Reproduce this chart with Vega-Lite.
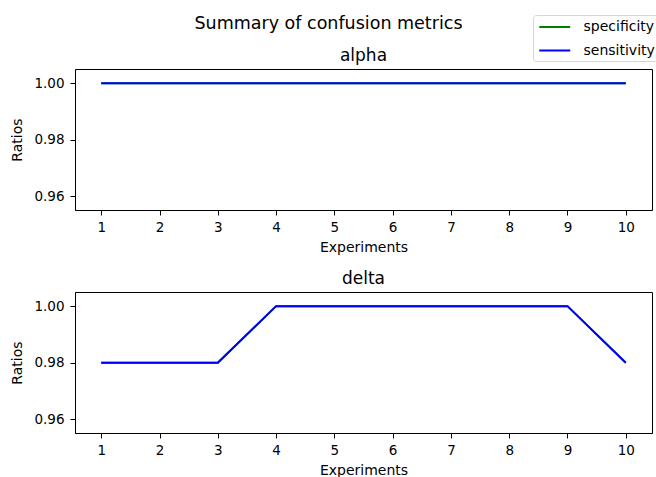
{
  "$schema": "https://vega.github.io/schema/vega-lite/v6.json",
  "padding": {"left": 10, "top": 14, "right": 0, "bottom": 0},
  "title": {"text": "Summary of confusion metrics", "fontSize": 17.5, "fontWeight": "normal", "font": "DejaVu Sans", "color": "#000", "anchor": "middle", "frame": "bounds", "offset": -32, "baseline": "alphabetic", "dx": -6},
  "data": {"values": [
    {"panel": "alpha", "experiment": 1, "metric": "specificity", "value": 1.0},
    {"panel": "alpha", "experiment": 2, "metric": "specificity", "value": 1.0},
    {"panel": "alpha", "experiment": 3, "metric": "specificity", "value": 1.0},
    {"panel": "alpha", "experiment": 4, "metric": "specificity", "value": 1.0},
    {"panel": "alpha", "experiment": 5, "metric": "specificity", "value": 1.0},
    {"panel": "alpha", "experiment": 6, "metric": "specificity", "value": 1.0},
    {"panel": "alpha", "experiment": 7, "metric": "specificity", "value": 1.0},
    {"panel": "alpha", "experiment": 8, "metric": "specificity", "value": 1.0},
    {"panel": "alpha", "experiment": 9, "metric": "specificity", "value": 1.0},
    {"panel": "alpha", "experiment": 10, "metric": "specificity", "value": 1.0},
    {"panel": "alpha", "experiment": 1, "metric": "sensitivity", "value": 1.0},
    {"panel": "alpha", "experiment": 2, "metric": "sensitivity", "value": 1.0},
    {"panel": "alpha", "experiment": 3, "metric": "sensitivity", "value": 1.0},
    {"panel": "alpha", "experiment": 4, "metric": "sensitivity", "value": 1.0},
    {"panel": "alpha", "experiment": 5, "metric": "sensitivity", "value": 1.0},
    {"panel": "alpha", "experiment": 6, "metric": "sensitivity", "value": 1.0},
    {"panel": "alpha", "experiment": 7, "metric": "sensitivity", "value": 1.0},
    {"panel": "alpha", "experiment": 8, "metric": "sensitivity", "value": 1.0},
    {"panel": "alpha", "experiment": 9, "metric": "sensitivity", "value": 1.0},
    {"panel": "alpha", "experiment": 10, "metric": "sensitivity", "value": 1.0},
    {"panel": "delta", "experiment": 1, "metric": "specificity", "value": 0.98},
    {"panel": "delta", "experiment": 2, "metric": "specificity", "value": 0.98},
    {"panel": "delta", "experiment": 3, "metric": "specificity", "value": 0.98},
    {"panel": "delta", "experiment": 4, "metric": "specificity", "value": 1.0},
    {"panel": "delta", "experiment": 5, "metric": "specificity", "value": 1.0},
    {"panel": "delta", "experiment": 6, "metric": "specificity", "value": 1.0},
    {"panel": "delta", "experiment": 7, "metric": "specificity", "value": 1.0},
    {"panel": "delta", "experiment": 8, "metric": "specificity", "value": 1.0},
    {"panel": "delta", "experiment": 9, "metric": "specificity", "value": 1.0},
    {"panel": "delta", "experiment": 10, "metric": "specificity", "value": 0.98},
    {"panel": "delta", "experiment": 1, "metric": "sensitivity", "value": 0.98},
    {"panel": "delta", "experiment": 2, "metric": "sensitivity", "value": 0.98},
    {"panel": "delta", "experiment": 3, "metric": "sensitivity", "value": 0.98},
    {"panel": "delta", "experiment": 4, "metric": "sensitivity", "value": 1.0},
    {"panel": "delta", "experiment": 5, "metric": "sensitivity", "value": 1.0},
    {"panel": "delta", "experiment": 6, "metric": "sensitivity", "value": 1.0},
    {"panel": "delta", "experiment": 7, "metric": "sensitivity", "value": 1.0},
    {"panel": "delta", "experiment": 8, "metric": "sensitivity", "value": 1.0},
    {"panel": "delta", "experiment": 9, "metric": "sensitivity", "value": 1.0},
    {"panel": "delta", "experiment": 10, "metric": "sensitivity", "value": 0.98}
  ]},
  "bounds": "flush",
  "spacing": 82,
  "vconcat": [
    {
      "width": 577, "height": 141,
      "title": {"text": "alpha", "fontSize": 17, "fontWeight": "normal", "font": "DejaVu Sans", "color": "#000", "offset": 4, "anchor": "middle", "frame": "group"},
      "transform": [{"filter": "datum.panel === 'alpha'"}],
      "layer": [
        {"transform": [{"filter": "datum.metric === 'specificity'"}],
         "mark": {"type": "line", "strokeWidth": 2},
         "encoding": {
           "x": {"field": "experiment", "type": "quantitative", "scale": {"domain": [0.55, 10.45], "nice": false, "zero": false}, "axis": {"values": [1,2,3,4,5,6,7,8,9,10], "format": "d", "title": "Experiments", "labelAngle": 0, "titlePadding": 7, "labelPadding": 5}},
           "y": {"field": "value", "type": "quantitative", "scale": {"domain": [0.9552, 1.005], "nice": false, "zero": false}, "axis": {"values": [0.96, 0.98, 1.0], "format": ".2f", "title": "Ratios", "titlePadding": 9, "labelPadding": 6}},
           "color": {"field": "metric", "type": "nominal", "scale": {"domain": ["specificity", "sensitivity"], "range": ["#008000", "#0000ff"]}}
         }},
        {"transform": [{"filter": "datum.metric === 'sensitivity'"}],
         "mark": {"type": "line", "strokeWidth": 2},
         "encoding": {
           "x": {"field": "experiment", "type": "quantitative"},
           "y": {"field": "value", "type": "quantitative"},
           "color": {"field": "metric", "type": "nominal"}
         }}
      ]
    },
    {
      "width": 577, "height": 141,
      "title": {"text": "delta", "fontSize": 17, "fontWeight": "normal", "font": "DejaVu Sans", "color": "#000", "offset": 4, "anchor": "middle", "frame": "group"},
      "transform": [{"filter": "datum.panel === 'delta'"}],
      "layer": [
        {"transform": [{"filter": "datum.metric === 'specificity'"}],
         "mark": {"type": "line", "strokeWidth": 2},
         "encoding": {
           "x": {"field": "experiment", "type": "quantitative", "scale": {"domain": [0.55, 10.45], "nice": false, "zero": false}, "axis": {"values": [1,2,3,4,5,6,7,8,9,10], "format": "d", "title": "Experiments", "labelAngle": 0, "titlePadding": 7, "labelPadding": 5}},
           "y": {"field": "value", "type": "quantitative", "scale": {"domain": [0.9552, 1.005], "nice": false, "zero": false}, "axis": {"values": [0.96, 0.98, 1.0], "format": ".2f", "title": "Ratios", "titlePadding": 9, "labelPadding": 6}},
           "color": {"field": "metric", "type": "nominal", "scale": {"domain": ["specificity", "sensitivity"], "range": ["#008000", "#0000ff"]}}
         }},
        {"transform": [{"filter": "datum.metric === 'sensitivity'"}],
         "mark": {"type": "line", "strokeWidth": 2},
         "encoding": {
           "x": {"field": "experiment", "type": "quantitative"},
           "y": {"field": "value", "type": "quantitative"},
           "color": {"field": "metric", "type": "nominal"}
         }}
      ]
    }
  ],
  "config": {
    "font": "DejaVu Sans",
    "view": {"stroke": "#000", "strokeWidth": 1},
    "axis": {"domainColor": "#000", "tickColor": "#000", "labelColor": "#000", "titleColor": "#000", "labelFont": "DejaVu Sans", "titleFont": "DejaVu Sans", "labelFontSize": 13.5, "titleFontSize": 14, "titleFontWeight": "normal", "grid": false, "tickSize": 5, "domainWidth": 1, "tickWidth": 1},
    "legend": {"orient": "none", "legendX": 458, "legendY": -54, "title": null, "symbolType": "M-0.742,0H3.258", "symbolSize": 240, "symbolStrokeWidth": 2, "labelFontSize": 14, "labelFont": "DejaVu Sans", "labelColor": "#000", "labelOffset": 29.5, "rowPadding": 7.5, "padding": 3, "strokeColor": "#d6d6d6", "cornerRadius": 3, "fillColor": "#fff"}
  }
}
